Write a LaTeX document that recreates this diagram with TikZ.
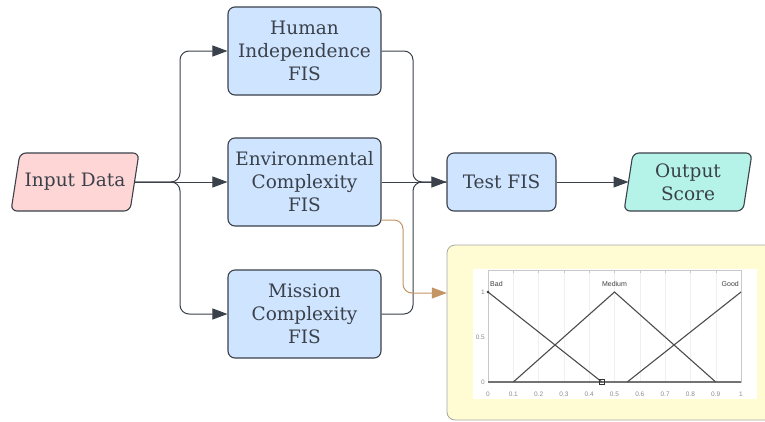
\documentclass[tikz,border=0pt]{standalone}
\usepackage{fontspec}
\setmainfont{DejaVu Serif}
\newfontfamily\plotfont{Liberation Sans}
\usetikzlibrary{arrows.meta}
\definecolor{ink}{HTML}{3A414A}
\definecolor{boxblue}{HTML}{CFE4FF}
\definecolor{boxpink}{HTML}{FFD6D6}
\definecolor{boxteal}{HTML}{B5F2E7}
\definecolor{boxyellow}{HTML}{FFFCD3}
\definecolor{brownarr}{HTML}{C39464}
\definecolor{gridg}{HTML}{F0F0F0}
\definecolor{axisg}{HTML}{C8C8C8}
\tikzset{
  x=1pt, y=-1pt,
  fisbox/.style={draw=ink, fill=boxblue, line width=1.1pt, rounded corners=7pt,
    minimum width=153pt, minimum height=88pt, align=center, text=ink,
    font=\fontsize{18.5}{23}\selectfont},
  testbox/.style={fisbox, minimum width=109pt, minimum height=58pt},
  txt/.style={text=ink, align=center, font=\fontsize{18.5}{23}\selectfont},
  para/.style={draw=ink, line width=1.1pt, rounded corners=6pt},
  conn/.style={draw=ink, line width=1pt, rounded corners=9pt},
  arr/.style={conn, -{Triangle[length=15pt,width=11pt]}},
  barr/.style={draw=brownarr, line width=1pt, rounded corners=9pt, -{Triangle[length=15pt,width=11pt]}},
  plotline/.style={draw=black!70, line width=1.1pt},
  ticklab/.style={text=black!45, font=\plotfont\fontsize{6.5}{7}\selectfont, inner sep=0pt},
  mflab/.style={text=black!75, font=\plotfont\fontsize{7}{8}\selectfont, inner sep=0pt},
}
\begin{document}
\begin{tikzpicture}
\useasboundingbox (0,0) rectangle (765,421);
\fill[white] (0,0) rectangle (765,421);
% input parallelogram
\draw[para, fill=boxpink] (20,153) -- (139,153) -- (130,211) -- (11,211) -- cycle;
\node[txt] (in) at (75,182) {Input Data};
\coordinate (inE) at (134.5,182);
% output parallelogram
\draw[para, fill=boxteal] (633,153) -- (752,153) -- (743,211) -- (624,211) -- cycle;
\node[txt] (out) at (688,182) {Output\\Score};
\coordinate (outW) at (628.5,182);
% FIS boxes
\node[fisbox] (hum) at (304.5,51) {Human\\Independence\\FIS};
\node[fisbox] (env) at (304.5,182) {Environmental\\Complexity\\FIS};
\node[fisbox] (mis) at (304.5,314) {Mission\\Complexity\\FIS};
\node[testbox] (test) at (501.5,182) {Test FIS};
% yellow panel
\draw[draw=black!35, fill=boxyellow, line width=0.8pt, rounded corners=8pt] (447,245) rectangle (775,420);
\node[inner sep=0pt, minimum width=0pt] (panel) at (447,293) {};
\fill[white] (473,269) rectangle (757,399);
% plot
\foreach \i in {1,...,9} {\draw[gridg, line width=0.4pt] ({488+25.3*\i},270) -- ({488+25.3*\i},382);}
\draw[axisg, line width=0.6pt] (488,270) rectangle (741,382);
\foreach \i in {0,...,10} {\draw[axisg, line width=0.4pt] ({488+25.3*\i},270) -- ({488+25.3*\i},272.5);}
\foreach \v/\l in {0/0,1/0.1,2/0.2,3/0.3,4/0.4,5/0.5,6/0.6,7/0.7,8/0.8,9/0.9,10/1}
  {\node[ticklab] at ({488+25.3*\v},394) {\l};}
\node[ticklab, anchor=east] at (485,292) {1};
\node[ticklab, anchor=east] at (485,337) {0.5};
\node[ticklab, anchor=east] at (485,382) {0};
\draw[black!55, line width=1.6pt] (488,382) -- (741,382);
\draw[plotline] (488,292) -- (601.9,382);
\draw[plotline] (513.3,382) -- (614.5,292) -- (715.7,382);
\draw[plotline] (627.2,382) -- (741,292);
\draw[black!80, line width=0.6pt] (599.6,379.7) rectangle (604.2,384.3);
\fill[black!80] (488,292) circle (1.3pt);
\node[mflab, anchor=south west] at (490,287) {Bad};
\node[mflab, anchor=south] at (614.5,287) {Medium};
\node[mflab, anchor=south east] at (739,287) {Good};
% connectors
\coordinate (fork) at (180,182);
\coordinate (mrg) at (413,182);
\draw[arr] (inE) -- (env.west);
\draw[arr] (inE) -| (fork |- hum.west) -- (hum.west);
\draw[arr] (inE) -| (fork |- mis.west) -- (mis.west);
\draw[conn] (hum.east) -| (mrg) -- (test.west);
\draw[conn] (mis.east) -| (mrg) -- (test.west);
\draw[arr] (env.east) -- (test.west);
\draw[arr] (test.east) -- (outW);
\coordinate (bs) at (381,220);
\coordinate (bc) at (403,293);
\draw[barr] (bs) -| (bc) -- (panel);
\end{tikzpicture}
\end{document}
